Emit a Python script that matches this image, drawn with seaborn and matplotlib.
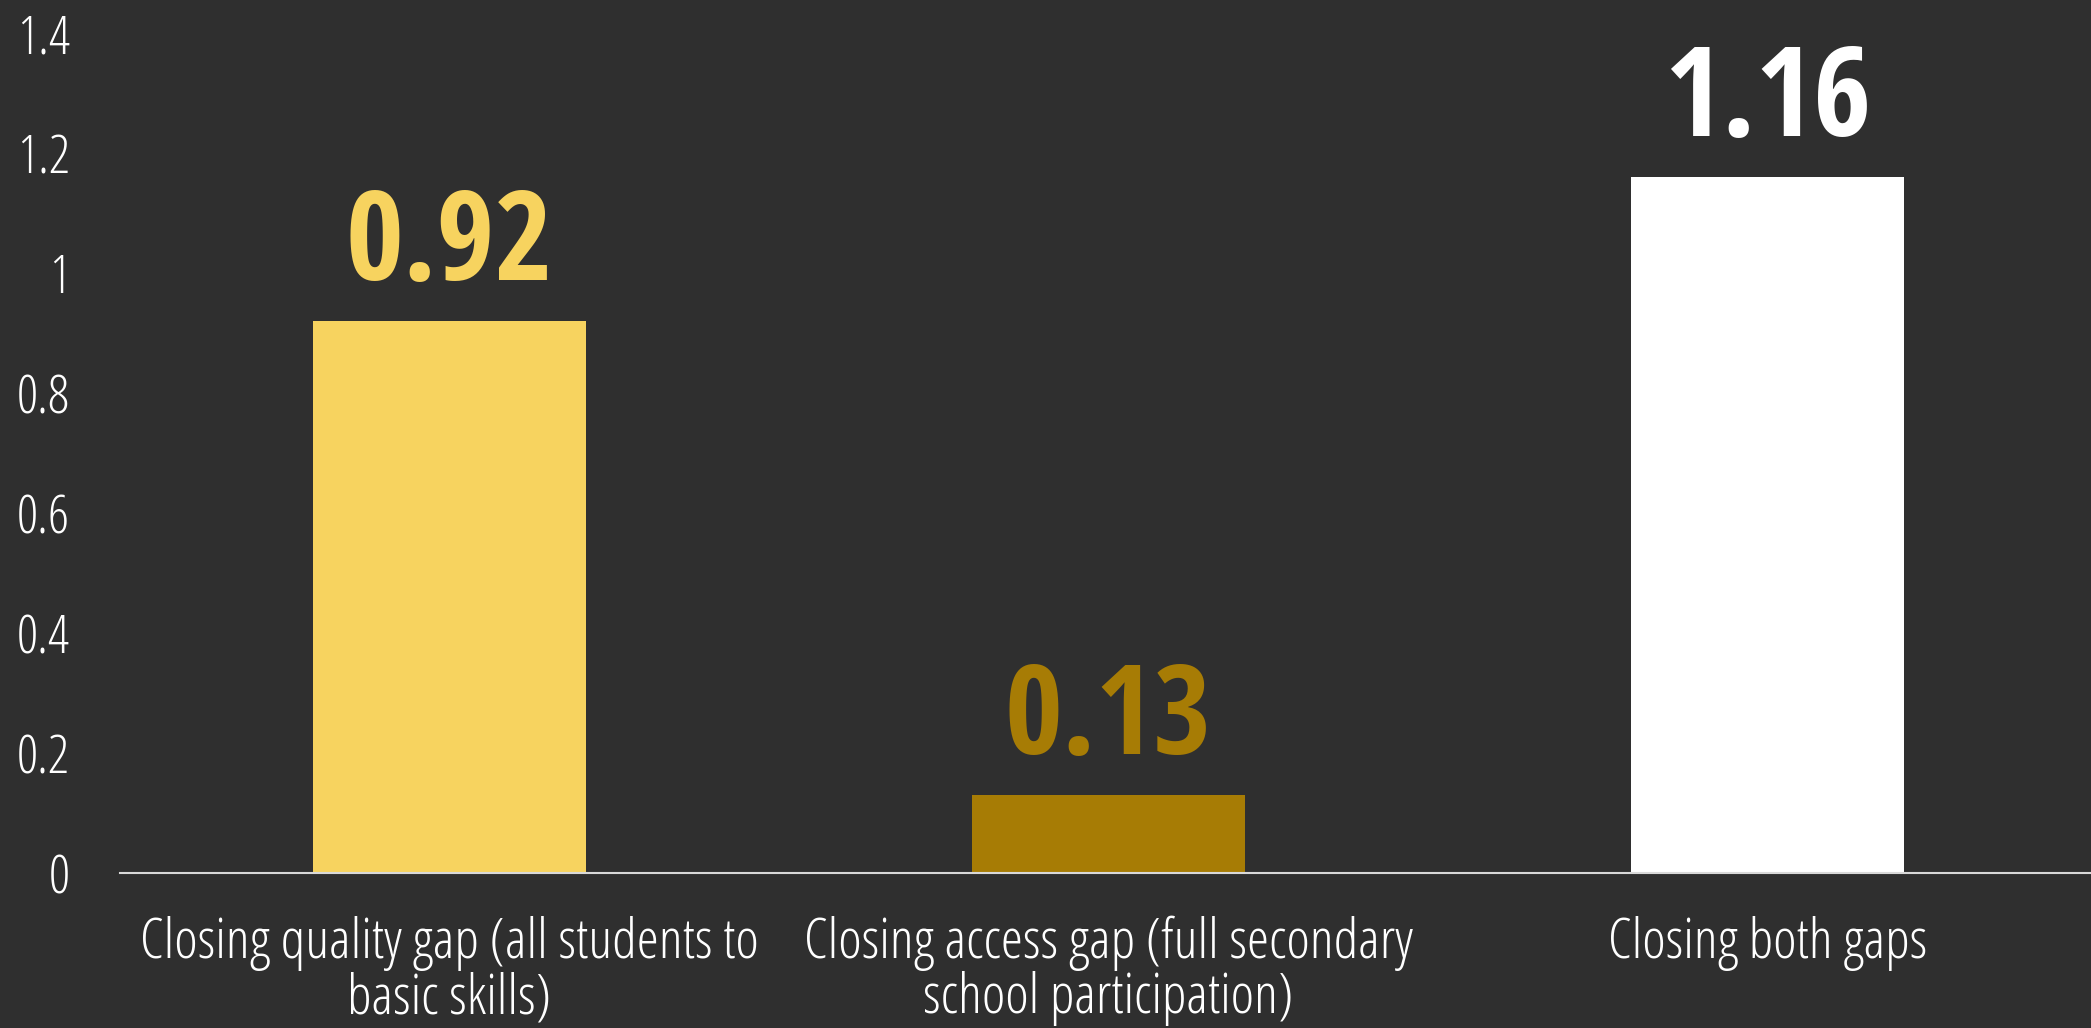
import matplotlib
matplotlib.use("Agg")
import matplotlib.pyplot as plt
from matplotlib import font_manager
from matplotlib.font_manager import FontProperties
import seaborn as sns
import pandas as pd

# ---- data ----
categories = [
    "Closing quality gap (all students to\nbasic skills)",
    "Closing access gap (full secondary\nschool participation)",
    "Closing both gaps",
]
values = [0.92, 0.13, 1.16]
value_labels = ["0.92", "0.13", "1.16"]
bar_colors = ["#F7D35F", "#A77C05", "#FFFFFF"]
y_ticks = [0, 0.2, 0.4, 0.6, 0.8, 1.0, 1.2, 1.4]
y_tick_labels = ["0", "0.2", "0.4", "0.6", "0.8", "1", "1.2", "1.4"]

BG = "#2F2F2F"


def find_font(name, stretch, weight, fallback_weight):
    for f in font_manager.fontManager.ttflist:
        if f.name == name and str(f.stretch) == stretch and str(f.weight) == str(weight):
            return FontProperties(fname=f.fname)
    return FontProperties(family="DejaVu Sans", weight=fallback_weight)


light_fp = find_font("Open Sans", "condensed", 300, "normal")
bold_fp = find_font("Open Sans Condensed", "condensed", 700, "bold")

sns.set_theme(style="dark", rc={
    "axes.facecolor": BG,
    "figure.facecolor": BG,
})

fig = plt.figure(figsize=(20.91, 10.28), dpi=100)
ax = fig.add_axes([0.0574, 0.1508, 0.9455, 0.8171])

df = pd.DataFrame({"category": categories, "value": values})
sns.barplot(data=df, x="category", y="value", hue="category",
            palette=bar_colors, saturation=1, width=0.415,
            dodge=False, legend=False, ax=ax, linewidth=0)

ax.set_xlim(-0.5, 2.5)
ax.set_ylim(0, 1.4)
ax.set_yticks(y_ticks)
ax.set_yticklabels(y_tick_labels)
ax.set_xlabel("")
ax.set_ylabel("")
ax.grid(False)

for s in ["top", "right", "left"]:
    ax.spines[s].set_visible(False)
ax.spines["bottom"].set_visible(True)
ax.spines["bottom"].set_color("#D9D9D9")
ax.spines["bottom"].set_linewidth(1.5)

ax.tick_params(axis="both", length=0)
ax.tick_params(axis="y", pad=36)
ax.tick_params(axis="x", pad=31)

for lab in ax.get_yticklabels():
    lab.set_fontproperties(light_fp)
    lab.set_fontsize(38)
    lab.set_color("white")
for lab in ax.get_xticklabels():
    lab.set_fontproperties(light_fp)
    lab.set_fontsize(40.5)
    lab.set_color("white")
    lab.set_linespacing(1.0)

for i, (v, t, c) in enumerate(zip(values, value_labels, bar_colors)):
    ax.annotate(t, xy=(i, v), xytext=(0, 29.5), textcoords="offset points",
                ha="center", va="baseline", color=c,
                fontproperties=bold_fp, fontsize=90)

fig.savefig("out.png", dpi=100, facecolor=BG)
